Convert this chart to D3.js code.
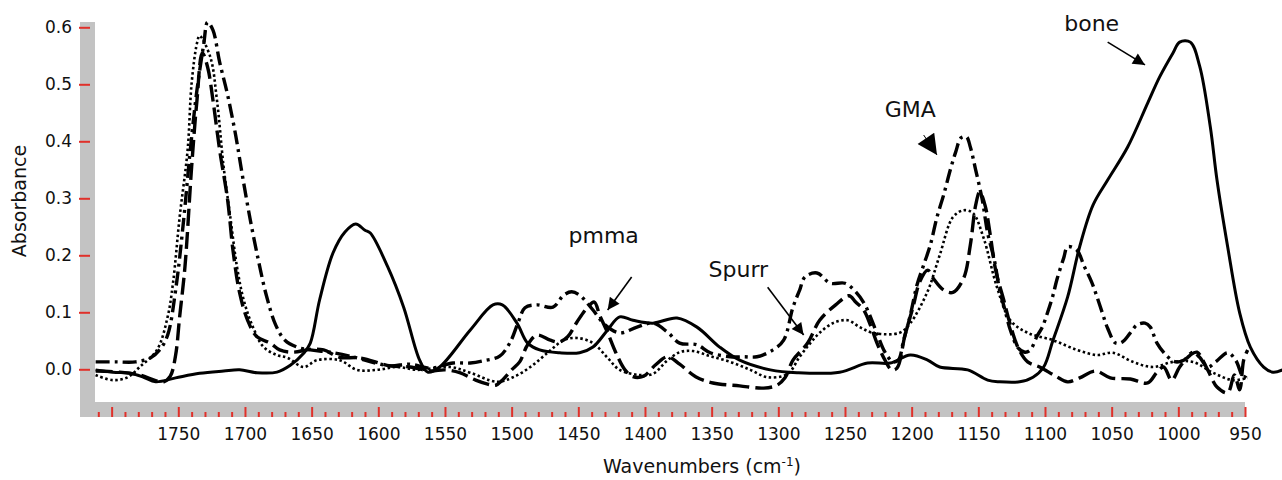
<!DOCTYPE html>
<html>
<head>
<meta charset="utf-8">
<script src="https://cdn.jsdelivr.net/npm/d3@7"></script>
<style>
  body { margin: 0; background: #fff; }
  svg { display: block; font-family: "DejaVu Sans", sans-serif; }
</style>
</head>
<body>
<div id="chart"></div>
<script>
// solid line: bone
const boneWn = [1812, 1799, 1786, 1776, 1767, 1752, 1734, 1716, 1704, 1691, 1676, 1666, 1656, 1651, 1644, 1634, 1625, 1617, 1610, 1606,
  1593, 1581, 1569, 1563, 1554, 1531, 1514, 1507, 1496, 1488, 1479, 1464, 1449, 1439, 1428, 1419, 1409, 1394, 1376, 1361,
  1344, 1329, 1306, 1286, 1254, 1233, 1216, 1201, 1188, 1179, 1158, 1143, 1134, 1119, 1109, 1101, 1094, 1083, 1074, 1064,
  1053, 1038, 1023, 1014, 1004, 999, 991, 984, 976, 971, 963, 954, 946, 936, 929, 922];
const boneAbs = [-0.001, -0.005, -0.007, -0.014, -0.022, -0.015, -0.007, -0.003, -0.001, -0.006, -0.005, 0.007, 0.028, 0.046, 0.122, 0.204, 0.241, 0.255, 0.244, 0.239,
  0.180, 0.109, 0.016, -0.005, 0.004, 0.069, 0.113, 0.113, 0.081, 0.046, 0.034, 0.029, 0.029, 0.039, 0.069, 0.092, 0.086, 0.081, 0.090, 0.074,
  0.039, 0.016, -0.001, -0.006, -0.005, 0.011, 0.011, 0.025, 0.016, 0.004, -0.001, -0.019, -0.022, -0.022, -0.014, 0.004, 0.051, 0.127, 0.215, 0.288,
  0.332, 0.390, 0.467, 0.513, 0.555, 0.574, 0.574, 0.532, 0.425, 0.332, 0.215, 0.099, 0.039, 0.004, -0.005, -0.001];

// dotted line
const dottedWn = [1812, 1799, 1788, 1779, 1766, 1758, 1754, 1749, 1743, 1740, 1736, 1734, 1726, 1721, 1716, 1711, 1706, 1701, 1694, 1686,
  1676, 1668, 1656, 1646, 1629, 1616, 1601, 1586, 1571, 1546, 1531, 1511, 1499, 1486, 1473, 1461, 1451, 1439, 1428, 1419,
  1404, 1394, 1383, 1374, 1364, 1351, 1336, 1321, 1308, 1293, 1284, 1276, 1269, 1259, 1248, 1239, 1229, 1209, 1201, 1188,
  1179, 1169, 1161, 1154, 1146, 1136, 1126, 1113, 1094, 1076, 1061, 1049, 1034, 1019, 1004, 989, 974, 959, 948];
const dottedAbs = [-0.010, -0.019, -0.014, 0.004, 0.034, 0.092, 0.151, 0.267, 0.385, 0.502, 0.572, 0.585, 0.548, 0.472, 0.355, 0.267, 0.180, 0.122, 0.074, 0.039,
  0.025, 0.020, 0.004, 0.016, 0.016, -0.001, -0.001, 0.004, -0.001, 0.004, -0.006, -0.022, -0.014, 0.004, 0.029, 0.051, 0.055, 0.046, 0.020, -0.001,
  -0.010, -0.008, 0.016, 0.030, 0.032, 0.023, 0.013, -0.001, -0.014, -0.008, 0.022, 0.046, 0.064, 0.081, 0.086, 0.074, 0.064, 0.064, 0.081, 0.137,
  0.200, 0.267, 0.279, 0.274, 0.230, 0.144, 0.086, 0.064, 0.051, 0.034, 0.025, 0.029, 0.013, 0.004, 0.013, 0.013, -0.006, -0.019, -0.015];

// long dashed line
const dashWn = [1812, 1794, 1779, 1767, 1761, 1756, 1752, 1749, 1745, 1740, 1736, 1732, 1728, 1724, 1719, 1713, 1709, 1704, 1698, 1691,
  1681, 1674, 1664, 1651, 1641, 1629, 1614, 1591, 1576, 1561, 1550, 1539, 1527, 1518, 1512, 1507, 1500, 1494, 1488, 1481,
  1471, 1464, 1458, 1451, 1443, 1438, 1434, 1428, 1422, 1415, 1409, 1401, 1392, 1383, 1374, 1362, 1349, 1329, 1311, 1301,
  1295, 1289, 1278, 1269, 1257, 1247, 1242, 1236, 1231, 1226, 1220, 1215, 1211, 1205, 1199, 1194, 1188, 1184, 1176, 1169,
  1161, 1156, 1152, 1149, 1145, 1141, 1137, 1131, 1126, 1120, 1113, 1104, 1092, 1083, 1074, 1062, 1051, 1036, 1023, 1016,
  1011, 1005, 999, 991, 986, 978, 971, 963, 958, 954, 951, 948];
const dashAbs = [-0.003, -0.005, -0.010, -0.020, -0.022, -0.012, 0.025, 0.092, 0.180, 0.355, 0.472, 0.555, 0.530, 0.472, 0.385, 0.297, 0.209, 0.134, 0.086, 0.057,
  0.046, 0.034, 0.030, 0.035, 0.034, 0.021, 0.020, 0.006, 0.004, -0.003, -0.001, -0.006, -0.019, -0.026, -0.028, -0.019, -0.001, 0.013, 0.043, 0.060,
  0.051, 0.048, 0.057, 0.083, 0.109, 0.118, 0.095, 0.064, 0.030, -0.001, -0.013, -0.012, 0.008, 0.022, 0.009, -0.013, -0.024, -0.029, -0.033, -0.028,
  -0.015, 0.016, 0.046, 0.086, 0.113, 0.129, 0.118, 0.104, 0.078, 0.046, 0.016, -0.001, 0.002, 0.060, 0.109, 0.153, 0.174, 0.160, 0.139, 0.135,
  0.160, 0.218, 0.288, 0.311, 0.288, 0.235, 0.174, 0.122, 0.078, 0.037, 0.013, 0.004, -0.012, -0.022, -0.015, -0.003, -0.015, -0.017, -0.024, -0.005,
  0.004, -0.019, 0.004, 0.025, 0.030, -0.001, -0.031, -0.041, -0.010, -0.036, 0.016, 0.034];

// dash-dot line: GMA
const gmaWn = [1812, 1797, 1782, 1771, 1764, 1758, 1752, 1746, 1741, 1736, 1731, 1728, 1724, 1719, 1713, 1707, 1702, 1696, 1690, 1684,
  1677, 1670, 1661, 1651, 1636, 1616, 1602, 1591, 1576, 1561, 1544, 1531, 1521, 1509, 1501, 1495, 1490, 1481, 1469, 1461,
  1455, 1449, 1439, 1430, 1419, 1406, 1394, 1383, 1374, 1361, 1351, 1336, 1326, 1316, 1304, 1296, 1289, 1284, 1280, 1271,
  1261, 1250, 1242, 1235, 1227, 1220, 1214, 1210, 1206, 1201, 1196, 1191, 1186, 1181, 1176, 1171, 1167, 1163, 1159, 1156,
  1152, 1147, 1143, 1138, 1134, 1130, 1126, 1120, 1115, 1111, 1106, 1102, 1098, 1094, 1091, 1086, 1083, 1076, 1071, 1065,
  1061, 1057, 1053, 1047, 1042, 1036, 1031, 1025, 1021, 1016, 1008, 1002, 996, 989, 984, 978, 972, 963, 957, 951, 948];
const gmaAbs = [0.013, 0.013, 0.013, 0.020, 0.034, 0.060, 0.139, 0.262, 0.385, 0.490, 0.569, 0.609, 0.595, 0.539, 0.481, 0.411, 0.341, 0.262, 0.192, 0.130,
  0.078, 0.051, 0.039, 0.034, 0.030, 0.020, 0.011, 0.006, 0.009, 0.002, 0.011, 0.011, 0.015, 0.023, 0.048, 0.083, 0.108, 0.113, 0.109, 0.130,
  0.136, 0.130, 0.104, 0.078, 0.064, 0.074, 0.081, 0.065, 0.046, 0.043, 0.029, 0.022, 0.022, 0.022, 0.034, 0.051, 0.109, 0.139, 0.162, 0.169,
  0.151, 0.151, 0.136, 0.113, 0.069, 0.030, 0.013, 0.016, 0.051, 0.095, 0.148, 0.183, 0.218, 0.267, 0.306, 0.350, 0.381, 0.406, 0.408, 0.390,
  0.350, 0.297, 0.239, 0.192, 0.139, 0.104, 0.069, 0.037, 0.030, 0.034, 0.058, 0.074, 0.100, 0.130, 0.158, 0.195, 0.215, 0.209, 0.183, 0.153,
  0.127, 0.099, 0.072, 0.046, 0.048, 0.064, 0.078, 0.081, 0.074, 0.046, 0.022, 0.013, 0.016, 0.030, 0.021, 0.004, 0.013, 0.029, 0.016, -0.015, -0.005];

const yTicks = [0, 0.1, 0.2, 0.3, 0.4, 0.5, 0.6];
const xMajor = d3.range(950, 1801, 50);
const xMinor = d3.range(950, 1811, 10).filter(d => d % 50 !== 0);
const xLabels = d3.range(950, 1751, 50);

const width = 1282, height = 480;
const red = "#e0302a", gray = "#c3c3c3";

const x = d3.scaleLinear().domain([1750, 950]).range([178.3, 1245]);
const y = d3.scaleLinear().domain([0, 0.6]).range([369.3, 27.3]);

const svg = d3.select("#chart").append("svg")
  .attr("width", width)
  .attr("height", height);

const defs = svg.append("defs");
defs.append("marker")
  .attr("id", "head")
  .attr("viewBox", "0 0 10 10")
  .attr("refX", 10).attr("refY", 5)
  .attr("markerUnits", "userSpaceOnUse")
  .attr("markerWidth", 15).attr("markerHeight", 12)
  .attr("orient", "auto")
  .append("path").attr("d", "M0,0L10,5L0,10z").attr("fill", "#000");
defs.append("marker")
  .attr("id", "bighead")
  .attr("viewBox", "0 0 10 10")
  .attr("refX", 10).attr("refY", 5)
  .attr("markerUnits", "userSpaceOnUse")
  .attr("markerWidth", 24).attr("markerHeight", 20)
  .attr("orient", "auto")
  .append("path").attr("d", "M0,0L10,5L0,10z").attr("fill", "#000");

// gray frame bands
svg.append("rect").attr("x", 80).attr("y", 402).attr("width", x(950) - 80).attr("height", 15).attr("fill", gray);
svg.append("rect").attr("x", 80).attr("y", 22).attr("width", 15).attr("height", 395).attr("fill", gray);

// y axis
const yAxis = svg.append("g")
  .attr("transform", "translate(90,0)")
  .call(d3.axisLeft(y).tickValues(yTicks).tickFormat(d3.format(".1f")).tickSize(11).tickPadding(7));
yAxis.select(".domain").remove();
yAxis.selectAll("line").attr("stroke", red).attr("stroke-width", 2);
yAxis.selectAll("text").attr("font-size", 17).attr("fill", "#111").attr("font-family", "DejaVu Sans");

// x axis ticks (pointing up from bottom of band)
const xMinorAxis = svg.append("g")
  .attr("transform", "translate(0,417)")
  .call(d3.axisTop(x).tickValues(xMinor).tickFormat("").tickSize(5));
const xMajorAxis = svg.append("g")
  .attr("transform", "translate(0,417)")
  .call(d3.axisTop(x).tickValues(xMajor).tickFormat("").tickSize(10));
[xMinorAxis, xMajorAxis].forEach(g => {
  g.select(".domain").remove();
  g.selectAll("line").attr("stroke", red).attr("stroke-width", 2);
});

const xLabelAxis = svg.append("g")
  .attr("transform", "translate(0,417)")
  .call(d3.axisBottom(x).tickValues(xLabels).tickFormat(d3.format("d")).tickSize(0).tickPadding(11));
xLabelAxis.select(".domain").remove();
xLabelAxis.selectAll("text").attr("font-size", 17).attr("fill", "#111").attr("font-family", "DejaVu Sans");

// axis titles
svg.append("text")
  .attr("transform", "translate(26,201) rotate(-90)")
  .attr("text-anchor", "middle")
  .attr("font-size", 19)
  .attr("fill", "#111")
  .text("Absorbance");

const xt = svg.append("text")
  .attr("x", 702).attr("y", 473)
  .attr("text-anchor", "middle")
  .attr("font-size", 19)
  .attr("fill", "#111");
xt.append("tspan").text("Wavenumbers (cm");
xt.append("tspan").attr("font-size", 12).attr("dy", -7).text("-1");
xt.append("tspan").attr("dy", 7).text(")");

// spectra
function drawSpectrum(wn, abs, dash, w) {
  const line = d3.line()
    .x((d, i) => x(wn[i]))
    .y(d => y(d))
    .curve(d3.curveCatmullRom.alpha(0.5));
  svg.append("path")
    .attr("d", line(abs))
    .attr("fill", "none")
    .attr("stroke", "#000")
    .attr("stroke-width", w)
    .attr("stroke-dasharray", dash)
    .attr("stroke-linejoin", "round");
}

drawSpectrum(dottedWn, dottedAbs, "2.5,2.6", 2.6);
drawSpectrum(dashWn, dashAbs, "17,6", 3.4);
drawSpectrum(gmaWn, gmaAbs, "14,5,3,5", 3.4);
drawSpectrum(boneWn, boneAbs, null, 3);

// annotations
function label(txt, w, v) {
  svg.append("text")
    .attr("x", x(w)).attr("y", y(v))
    .attr("text-anchor", "middle")
    .attr("font-size", 22)
    .attr("fill", "#111")
    .text(txt);
}
function arrow(w1, v1, w2, v2, marker, sw) {
  svg.append("line")
    .attr("x1", x(w1)).attr("y1", y(v1))
    .attr("x2", x(w2)).attr("y2", y(v2))
    .attr("stroke", "#000")
    .attr("stroke-width", sw)
    .attr("marker-end", "url(#" + marker + ")");
}

label("bone", 1065, 0.593);
arrow(1053, 0.574, 1025, 0.534, "head", 1.6);
label("GMA", 1201, 0.443);
arrow(1191, 0.411, 1181, 0.376, "bighead", 1);
label("pmma", 1431, 0.222);
arrow(1410, 0.162, 1428, 0.104, "head", 1.6);
label("Spurr", 1330, 0.162);
arrow(1308, 0.144, 1281, 0.060, "head", 1.6);
</script>
</body>
</html>
